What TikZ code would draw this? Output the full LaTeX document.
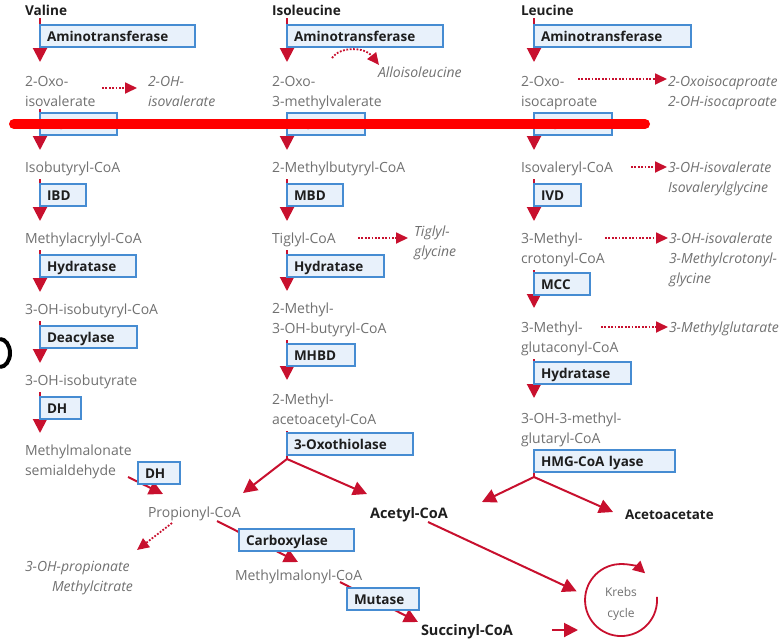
\documentclass[tikz,border=0pt]{standalone}
\usepackage{fontspec}
\setmainfont{Open Sans}
\usetikzlibrary{arrows.meta,calc}
\pgfdeclarelayer{background}
\pgfsetlayers{background,main}
\definecolor{pwred}{RGB}{200,16,46}
\definecolor{boxblue}{RGB}{70,140,210}
\definecolor{boxfill}{RGB}{232,241,251}
\definecolor{metgray}{RGB}{112,112,112}
\definecolor{darktext}{RGB}{30,30,30}
\definecolor{markred}{RGB}{255,0,0}
\begin{document}
\begin{tikzpicture}[x=1pt,y=-1pt,
  met/.style={anchor=north west, inner sep=0pt, outer sep=0pt, text=metgray, font=\fontsize{14}{20}\selectfont, align=left},
  side/.style={met, font=\fontsize{14}{20}\selectfont\itshape},
  amino/.style={anchor=north west, inner sep=0pt, outer sep=0pt, text=darktext, font=\fontsize{13.6}{16}\selectfont\bfseries},
  enz/.style={draw=boxblue, fill=boxfill, line width=1.3pt, anchor=north west, outer sep=0pt, inner xsep=7pt, inner ysep=0pt, minimum height=22pt, text height=12pt, text depth=1pt, text=darktext, font=\fontsize{13.5}{16}\selectfont\bfseries, align=left},
  varrow/.style={draw=pwred, line width=2pt, -{Triangle[length=14pt,width=14pt]}, shorten <=3pt, shorten >=12pt},
  vline/.style={draw=pwred, line width=2pt, shorten <=3pt},
  darrow/.style={draw=pwred, line width=2pt, -{Triangle[length=14pt,width=14pt]}},
  dotarrow/.style={draw=pwred, line width=1.8pt, dash pattern=on 1.8pt off 1.6pt, -{Triangle[length=12pt,width=11pt]}}
]
\useasboundingbox (0,0) rectangle (782,638);
\coordinate (c1) at (40,0);
\coordinate (c2) at (287,0);
\coordinate (c3) at (534,0);
\coordinate (b2) at (287,459);
\coordinate (b3) at (534,477);

% ---- Valine column
\node[amino] (valine) at (25,5) {Valine};
\node[enz, text width=141pt] (ami1) at (40,25) {Aminotransferase};
\node[met] (oxo1) at (25,76) {2-Oxo-\\isovalerate};
\node[side] (ohiv) at (148,76) {2-OH-\\isovalerate};
\node[enz, text width=63pt] (bck1) at (40,113) {BCKDH};
\node[met] (isob) at (25,162) {Isobutyryl-CoA};
\node[enz, text width=32pt] (ibd) at (40,184) {IBD};
\node[met] (macr) at (25,233) {Methylacrylyl-CoA};
\node[enz, text width=82pt] (hyd1) at (40,255) {Hydratase};
\node[met] (ohibcoa) at (25,304) {3-OH-isobutyryl-CoA};
\node[enz, text width=83pt] (deac) at (40,326) {Deacylase};
\node[met] (ohib) at (25,375) {3-OH-isobutyrate};
\node[enz, text width=27pt] (dh1) at (40,397) {DH};
\node[met] (mmsa) at (25,445) {Methylmalonate\\semialdehyde};
\node[enz, text width=28pt] (dh2) at (138,462) {DH};

% ---- Isoleucine column
\node[amino] (ile) at (272,5) {Isoleucine};
\node[enz, text width=142pt] (ami2) at (287,25) {Aminotransferase};
\node[met] (oxo2) at (272,76) {2-Oxo-\\3-methylvalerate};
\node[side] (allo) at (378,67) {Alloisoleucine};
\node[enz, text width=64pt] (bck2) at (287,113) {BCKDH};
\node[met] (mbcoa) at (272,162) {2-Methylbutyryl-CoA};
\node[enz, text width=42pt] (mbd) at (287,184) {MBD};
\node[met] (tig) at (272,233) {Tiglyl-CoA};
\node[side] (tiggly) at (414,226) {Tiglyl-\\glycine};
\node[enz, text width=83pt] (hyd2) at (287,255) {Hydratase};
\node[met] (mhb) at (272,303) {2-Methyl-\\3-OH-butyryl-CoA};
\node[enz, text width=54pt] (mhbd) at (287,344) {MHBD};
\node[met] (mac) at (272,394) {2-Methyl-\\acetoacetyl-CoA};
\node[enz, text width=112pt] (oxoth) at (287,433) {3-Oxothiolase};

% ---- Leucine column
\node[amino] (leu) at (521,5) {Leucine};
\node[enz, text width=143pt] (ami3) at (534,25) {Aminotransferase};
\node[met] (oxo3) at (521,76) {2-Oxo-\\isocaproate};
\node[side] (oxoic) at (668,76) {2-Oxoisocaproate\\2-OH-isocaproate};
\node[enz, text width=64pt] (bck3) at (534,113) {BCKDH};
\node[met] (ivcoa) at (521,162) {Isovaleryl-CoA};
\node[side] (ohiv1) at (668,162) {3-OH-isovalerate\\Isovalerylglycine};
\node[enz, text width=33pt] (ivd) at (534,184) {IVD};
\node[met] (mcr) at (521,233) {3-Methyl-\\crotonyl-CoA};
\node[side] (ohiv2) at (669,233) {3-OH-isovalerate\\3-Methylcrotonyl-\\glycine};
\node[enz, text width=42pt] (mccb) at (534,273) {MCC};
\node[met] (mgc) at (521,322) {3-Methyl-\\glutaconyl-CoA};
\node[side] (mglu) at (669,322) {3-Methylglutarate};
\node[enz, text width=83pt] (hyd3) at (534,362) {Hydratase};
\node[met] (hmg) at (521,413) {3-OH-3-methyl-\\glutaryl-CoA};
\node[enz, text width=127pt] (hmgl) at (534,450) {HMG-CoA lyase};

% ---- bottom
\node[met] (prop) at (148,507) {Propionyl-CoA};
\node[side] (ohp) at (25,561) {3-OH-propionate};
\node[side] (mcit) at (52,581) {Methylcitrate};
\node[amino, font=\fontsize{14.5}{16}\selectfont\bfseries] (acet) at (370,507) {Acetyl-CoA};
\node[amino, font=\fontsize{13.4}{16}\selectfont\bfseries] (acac) at (625,510) {Acetoacetate};
\node[enz, text width=101pt] (carb) at (239,529) {Carboxylase};
\node[met] (mmcoa) at (235,570) {Methylmalonyl-CoA};
\node[enz, text width=58pt] (mut) at (347,588) {Mutase};
\node[amino, font=\fontsize{14.5}{16}\selectfont\bfseries] (succ) at (421,624) {Succinyl-CoA};
\node[circle, minimum size=92pt, inner sep=0pt, text=metgray, align=center, font=\fontsize{12}{21}\selectfont] (krebs) at (621,604) {Krebs\\cycle};

\begin{pgfonlayer}{background}
% Valine
\draw[varrow, shorten >=14pt] (valine.south -| c1) -- (oxo1.north -| c1);
\draw[varrow] (oxo1.south -| c1) -- (isob.north -| c1);
\draw[varrow] (isob.south -| c1) -- (macr.north -| c1);
\draw[varrow] (macr.south -| c1) -- (ohibcoa.north -| c1);
\draw[varrow] (ohibcoa.south -| c1) -- (ohib.north -| c1);
\draw[varrow] (ohib.south -| c1) -- (mmsa.north -| c1);
% Isoleucine
\draw[varrow, shorten >=14pt] (ile.south -| c2) -- (oxo2.north -| c2);
\draw[varrow] (oxo2.south -| c2) -- (mbcoa.north -| c2);
\draw[varrow] (mbcoa.south -| c2) -- (tig.north -| c2);
\draw[varrow] (tig.south -| c2) -- (mhb.north -| c2);
\draw[varrow, shorten >=14pt] (mhb.south -| c2) -- (mac.north -| c2);
\draw[vline] (mac.south -| c2) -- (b2);
% Leucine
\draw[varrow, shorten >=14pt] (leu.south -| c3) -- (oxo3.north -| c3);
\draw[varrow] (oxo3.south -| c3) -- (ivcoa.north -| c3);
\draw[varrow] (ivcoa.south -| c3) -- (mcr.north -| c3);
\draw[varrow, shorten >=14pt] (mcr.south -| c3) -- (mgc.north -| c3);
\draw[varrow, shorten >=15pt] (mgc.south -| c3) -- (hmg.north -| c3);
\draw[vline] (hmg.south -| c3) -- (b3);
% branches
\draw[darrow] (b2) -- ($(prop.north west)+(95,-14)$);
\draw[darrow] (b2) -- ($(acet.north west)+(-3,-13)$);
\draw[darrow] (b3) -- ($(acet.north west)+(112,-5)$);
\draw[darrow] (b3) -- ($(acac.north west)+(-12,2)$);
% propionyl path
\draw[darrow] ($(mmsa.north west)+(103,32)$) -- ($(prop.north west)+(15,-13)$);
\draw[darrow] ($(prop.north west)+(69,14)$) -- ($(mmcoa.north west)+(63,-8)$);
\draw[darrow] ($(mmcoa.north west)+(105,12)$) -- ($(succ.north west)+(-3,-2)$);
% to Krebs
\draw[darrow] ($(acet.north west)+(58,15)$) -- (krebs.164);
\draw[darrow] ($(succ.north west)+(131,6)$) -- ($(krebs.center)+(-43,26)$);
\begin{scope}[y=1pt]
\draw[draw=pwred, line width=1.8pt, -{Triangle[length=12pt,width=12pt]}] ([xshift=35.9pt, yshift=7.1pt]krebs.center) arc[start angle=5, end angle=-312, radius=36];
\end{scope}
% dotted side reactions
\draw[dotarrow] ($(oxo1.north west)+(77,12)$) -- ($(ohiv.north west)+(-11,12)$);
\draw[dotarrow] ($(ami2.south west)+(45,11)$) .. controls +(8,-12) and +(-14,-18) .. ($(allo.north west)+(1,-2)$);
\draw[dotarrow] ($(tig.north west)+(86,5)$) -- ($(tiggly.north west)+(-6,12)$);
\draw[dotarrow] ($(oxo3.north west)+(57,3)$) -- ($(oxoic.north west)+(-1,3)$);
\draw[dotarrow] ($(ivcoa.north west)+(110,5)$) -- ($(ohiv1.north west)+(-1,5)$);
\draw[dotarrow] ($(mcr.north west)+(84,5)$) -- ($(ohiv2.north west)+(-1,5)$);
\draw[dotarrow] ($(mgc.north west)+(80,5)$) -- ($(mglu.north west)+(-1,5)$);
\draw[dotarrow] ($(prop.north west)+(24,16)$) -- ($(ohp.north west)+(112,-11)$);
\end{pgfonlayer}

% overlay marks
\draw[markred, line width=10pt, line cap=round] (14,124) -- (645,124);
\draw[black, line width=4pt] (0,339) arc[start angle=-90, end angle=90, x radius=10, y radius=14];
\end{tikzpicture}
\end{document}
